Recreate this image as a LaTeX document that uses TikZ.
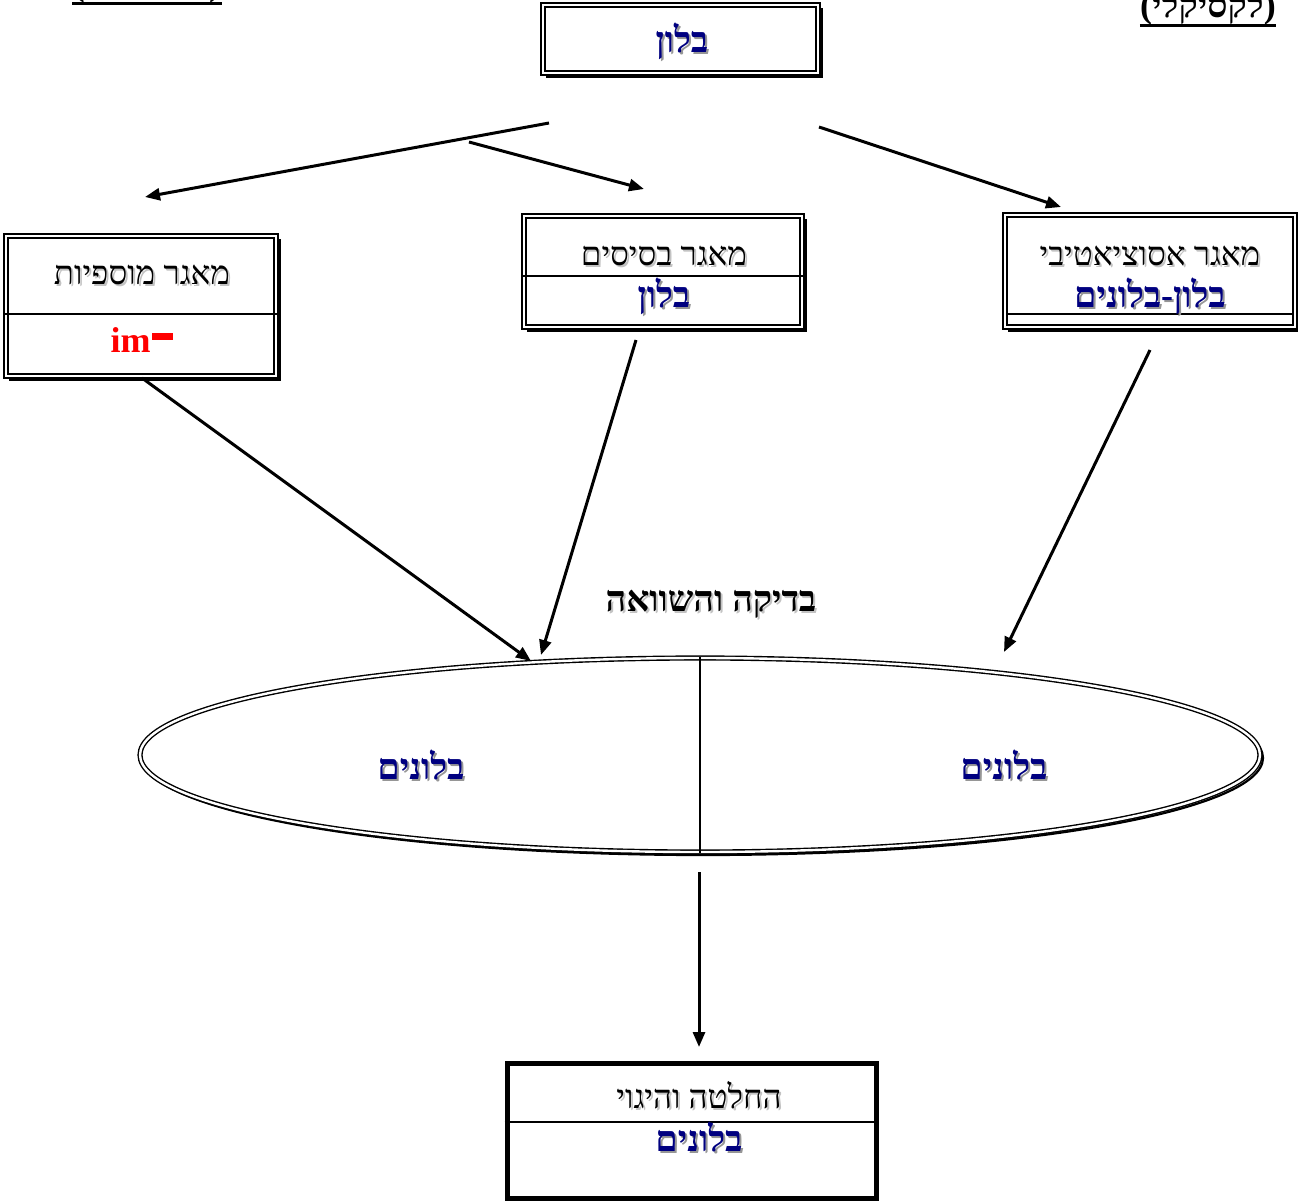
\documentclass[tikz,border=0pt]{standalone}
\usepackage{fontspec}
\setmainfont{Liberation Serif}
\newfontfamily\heb[Script=Hebrew]{Liberation Serif}
\TeXXeTstate=1
\usetikzlibrary{arrows.meta,shapes.geometric}
\definecolor{navyblue}{RGB}{0,0,128}
\definecolor{shade}{RGB}{150,150,150}
\definecolor{lshade}{RGB}{195,195,195}
\tikzset{
  reg/.style={font=\heb\fontsize{16.5}{18}\selectfont, inner sep=0pt, anchor=base},
  blu/.style={font=\heb\bfseries\fontsize{18}{20}\selectfont, text=navyblue, inner sep=0pt, anchor=base},
  blk/.style={font=\heb\bfseries\fontsize{18}{20}\selectfont, inner sep=0pt, anchor=base},
  dblbox/.style={draw, fill=white, double, double distance=1.2pt, line width=0.7pt, inner sep=0pt},
  conn/.style={line width=1.5pt, -{Triangle[length=7.5pt,width=6pt]}},
  thin/.style={line width=0.7pt}
}
\newcommand\mybox[5]{%
  \draw[shade, line width=1.1pt] ({#2-#4/2+4},{#3-#5/2+4}) rectangle ({#2+#4/2+4},{#3+#5/2+4});
  \node[dblbox, minimum width=#4*0.5pt, minimum height=#5*0.5pt] (#1) at (#2,#3) {};
}
\newcommand\stxt[6]{% name, x, y, style, shadow colour, text
  \node[#4, text=#5] at ({#2+2},{#3+2}) {#6};
  \node[#4] (#1) at (#2,#3) {#6};
}
\newcommand\lpar{{\rmfamily(}}
\newcommand\rpar{{\rmfamily)}}
\begin{document}
\begin{tikzpicture}[x=0.5pt,y=-0.5pt]
\useasboundingbox (0,0) rectangle (1298,1201);

% top labels (partly cut off by page edge)
\node[blk] (lexl) at (147,-5) {\lpar\beginR מורפולוגי\endR\rpar};
\draw[line width=1.5pt] ([yshift=-4pt]lexl.base west) -- ([yshift=-4pt]lexl.base east);
\node[blk] (lexr) at (1208,17) {\lpar\beginR לקסיקלי\endR\rpar};
\draw[line width=1.5pt] ([yshift=-4pt]lexr.base west) -- ([yshift=-4pt]lexr.base east);

% top box
\mybox{top}{680.5}{39}{275}{68}
\stxt{toptxt}{682}{52}{blu}{shade}{\beginR בלון\endR}

% left box
\mybox{lb}{141}{306}{270}{140}
\draw[thin] (lb.west |- 0,314) -- (lb.east |- 0,314);
\stxt{lbt}{142}{284}{reg}{lshade}{\beginR מאגר מוספיות\endR}
\node[blk, text=red] (lbim) at (142,352) {im\hspace{1pt}\rule[6pt]{10.5pt}{3.5pt}};

% middle box
\mybox{mb}{663}{271.5}{278}{111}
\draw[thin] (mb.west |- 0,276) -- (mb.east |- 0,276);
\stxt{mbt}{664}{265}{reg}{lshade}{\beginR מאגר בסיסים\endR}
\stxt{mbb}{664}{307}{blu}{shade}{\beginR בלון\endR}

% right box
\mybox{rb}{1150}{271}{290}{112}
\draw[thin] ([xshift=1.5pt]rb.west |- 0,314) -- ([xshift=-1.5pt]rb.east |- 0,314);
\stxt{rbt}{1150}{265}{reg}{lshade}{\beginR מאגר אסוציאטיבי\endR}
\stxt{rbb}{1150}{307}{blu}{shade}{\beginR בלון-בלונים\endR}

% comparison label
\stxt{cmp}{711}{611}{blk}{lshade}{\beginR בדיקה והשוואה\endR}

% ellipse
\draw[shade, line width=1.1pt] (703,758) ellipse [x radius=560, y radius=97];
\node[ellipse, draw, fill=white, double, double distance=1.2pt, line width=0.7pt,
      minimum width=560pt, minimum height=97pt, inner sep=0pt] (ell) at (700,755) {};
\draw[thin] (ell.north) -- (ell.south);
\stxt{elt}{421}{779}{blu}{shade}{\beginR בלונים\endR}
\stxt{ert}{1004}{779}{blu}{shade}{\beginR בלונים\endR}

% bottom box
\node[draw, fill=white, line width=2.5pt, minimum width=184.5pt, minimum height=67.5pt, inner sep=0pt] (bb) at (691.5,1130.5) {};
\draw[thin] (bb.west |- 0,1122) -- (bb.east |- 0,1122);
\stxt{bbt}{699}{1108}{reg}{lshade}{\beginR החלטה והיגוי\endR}
\stxt{bbb}{699}{1151}{blu}{shade}{\beginR בלונים\endR}

% connector end points
\coordinate (s1) at (549,123);  \coordinate (e1) at (145,197);
\coordinate (s2) at (469,142);  \coordinate (e2) at (644,189);
\coordinate (s3) at (819,127);  \coordinate (e3) at (1061,207);
\coordinate (s4) at (142,378);  \coordinate (e4) at (531,661);
\coordinate (s5) at (636,340);  \coordinate (e5) at (541,655);
\coordinate (s6) at (1150,350); \coordinate (e6) at (1004,652);
\coordinate (s7) at (699,872);  \coordinate (e7) at (699,1047);

\draw[conn] (s1) -- (e1);
\draw[conn] (s2) -- (e2);
\draw[conn] (s3) -- (e3);
\draw[conn] (s4) -- (e4);
\draw[conn] (s5) -- (e5);
\draw[conn] (s6) -- (e6);
\draw[conn] (s7) -- (e7);
\end{tikzpicture}
\end{document}
